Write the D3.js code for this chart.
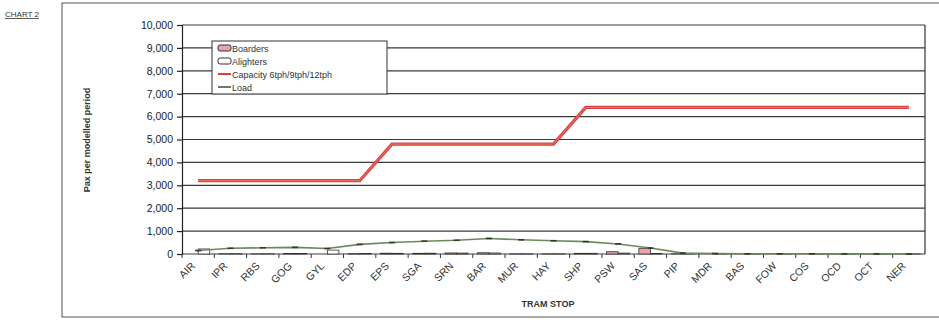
<!DOCTYPE html>
<html><head><meta charset="utf-8">
<script src="https://cdn.jsdelivr.net/npm/d3@7/dist/d3.min.js"></script>
<style>body{margin:0;background:#fff}svg{display:block;font-family:"Liberation Sans",Arial,sans-serif}</style>
</head><body><svg id="c" width="939" height="322"></svg>
<script>
const stops = ["AIR","IPR","RBS","GOG","GYL","EDP","EPS","SGA","SRN","BAR","MUR","HAY","SHP","PSW","SAS","PIP","MDR","BAS","FOW","COS","OCD","OCT","NER"];
const boarders = [0,10,5,25,0,15,35,30,45,55,5,5,30,100,250,5,0,0,0,0,0,0,0];
const alighters = [220,15,10,20,170,20,30,35,40,45,10,10,30,40,20,10,5,5,5,5,5,5,5];
const capacity = [3200,3200,3200,3200,3200,3200,4800,4800,4800,4800,4800,4800,6400,6400,6400,6400,6400,6400,6400,6400,6400,6400,6400];
const load = [150,250,270,290,240,420,500,560,600,680,620,580,540,440,260,40,20,10,10,10,5,5,0];
const yTicks = [0,1000,2000,3000,4000,5000,6000,7000,8000,9000,10000];
const seriesNames = ["Boarders","Alighters","Capacity 6tph/9tph/12tph","Load"];

const svg = d3.select("#c");
const L=182,R=925,T=25,B=254;
const x = d3.scaleBand().domain(stops).range([L,R]);
const y = d3.scaleLinear().domain([0,10000]).range([B,T]);
const xs = d3.scaleBand().domain(["b","a"]).range([0,x.bandwidth()]).paddingInner(0).paddingOuter(0.4);

// outer frame
svg.append("rect").attr("x",62).attr("y",3).attr("width",880).attr("height",314).attr("fill","none").attr("stroke","#555").attr("stroke-width",1);
svg.append("text").attr("x",5).attr("y",17).attr("font-size",8).attr("fill","#333").attr("text-decoration","underline").text("CHART 2");

// grid
svg.append("g").selectAll("line").data(yTicks).join("line")
  .attr("x1",L).attr("x2",R).attr("y1",d=>y(d)).attr("y2",d=>y(d)).attr("stroke","#3a3a3a").attr("stroke-width",1.2);
svg.append("line").attr("x1",R).attr("x2",R).attr("y1",T).attr("y2",B).attr("stroke","#333").attr("stroke-width",1.2);

// y axis
const ya = svg.append("g").attr("transform",`translate(${L},0)`)
  .call(d3.axisLeft(y).tickValues(yTicks).tickFormat(d3.format(",")).tickSize(5).tickPadding(4));
ya.selectAll("path,line").attr("stroke","#222").attr("stroke-width",1.2);
ya.selectAll("text").attr("font-size",10.5).attr("fill","#222");
// x axis
const xa = svg.append("g").attr("transform",`translate(0,${B})`).call(d3.axisBottom(x).tickSize(0));
xa.select("path").remove();
xa.selectAll("text").attr("font-size",10.5).attr("fill","#333").attr("text-anchor","end")
  .attr("y",0).attr("dy","0.35em").attr("transform","translate(-5,10) rotate(-45)");
svg.append("g").selectAll("line").data(stops).join("line")
  .attr("x1",d=>x(d)).attr("x2",d=>x(d)).attr("y1",B).attr("y2",B+4).attr("stroke","#333");

// bars
const g = svg.append("g");
g.selectAll(".b").data(stops).join("rect")
  .attr("x",d=>x(d)+xs("b")).attr("width",xs.bandwidth())
  .attr("y",(d,i)=>y(boarders[i])).attr("height",(d,i)=>B-y(boarders[i]))
  .attr("fill","#e8a3ad").attr("stroke","#333").attr("stroke-width",0.8);
g.selectAll(".a").data(stops).join("rect")
  .attr("x",d=>x(d)+xs("a")).attr("width",xs.bandwidth())
  .attr("y",(d,i)=>y(alighters[i])).attr("height",(d,i)=>B-y(alighters[i]))
  .attr("fill","#fff").attr("stroke","#333").attr("stroke-width",0.8);

const cx = d=>x(d)+x.bandwidth()/2;
// capacity
const line = d3.line().x(d=>cx(d[0])).y(d=>y(d[1]));
svg.append("path").attr("d",line(stops.map((s,i)=>[s,capacity[i]]))).attr("fill","none").attr("stroke","#d9403f").attr("stroke-width",3.2);
svg.append("path").attr("d",line(stops.map((s,i)=>[s,capacity[i]]))).attr("fill","none").attr("stroke","#f08a70").attr("stroke-width",0.8);
// load
svg.append("path").attr("d",line(stops.map((s,i)=>[s,load[i]]))).attr("fill","none").attr("stroke","#6a8a55").attr("stroke-width",1.6);
svg.append("g").selectAll("line").data(stops).join("line")
  .attr("x1",d=>cx(d)-3).attr("x2",d=>cx(d)+3).attr("y1",(d,i)=>y(load[i])).attr("y2",(d,i)=>y(load[i]))
  .attr("stroke","#333").attr("stroke-width",1.6);

// legend
const lg = svg.append("g").attr("transform","translate(212,41)");
lg.append("rect").attr("width",175).attr("height",53).attr("fill","#fff").attr("stroke","#333");
const ly = [7,20,33,46];
lg.append("rect").attr("x",6).attr("y",ly[0]-3).attr("width",13).attr("height",6).attr("rx",2).attr("fill","#e8a3ad").attr("stroke","#333");
lg.append("rect").attr("x",6).attr("y",ly[1]-3).attr("width",13).attr("height",6).attr("rx",2).attr("fill","#fff").attr("stroke","#333");
lg.append("line").attr("x1",6).attr("x2",19).attr("y1",ly[2]).attr("y2",ly[2]).attr("stroke","#d9403f").attr("stroke-width",2);
lg.append("line").attr("x1",6).attr("x2",19).attr("y1",ly[3]).attr("y2",ly[3]).attr("stroke","#444").attr("stroke-width",1.5);
lg.selectAll("text").data(seriesNames).join("text").attr("x",20).attr("y",(d,i)=>ly[i]+3.5)
  .attr("font-size",9).attr("fill","#333").text(d=>d);

// axis titles
svg.append("text").attr("transform","translate(90,140) rotate(-90)").attr("text-anchor","middle")
  .attr("font-size",9).attr("font-weight","bold").attr("fill","#333").text("Pax per modelled period");
svg.append("text").attr("x",548).attr("y",307).attr("text-anchor","middle")
  .attr("font-size",9).attr("font-weight","bold").attr("fill","#333").text("TRAM STOP");
</script></body></html>
